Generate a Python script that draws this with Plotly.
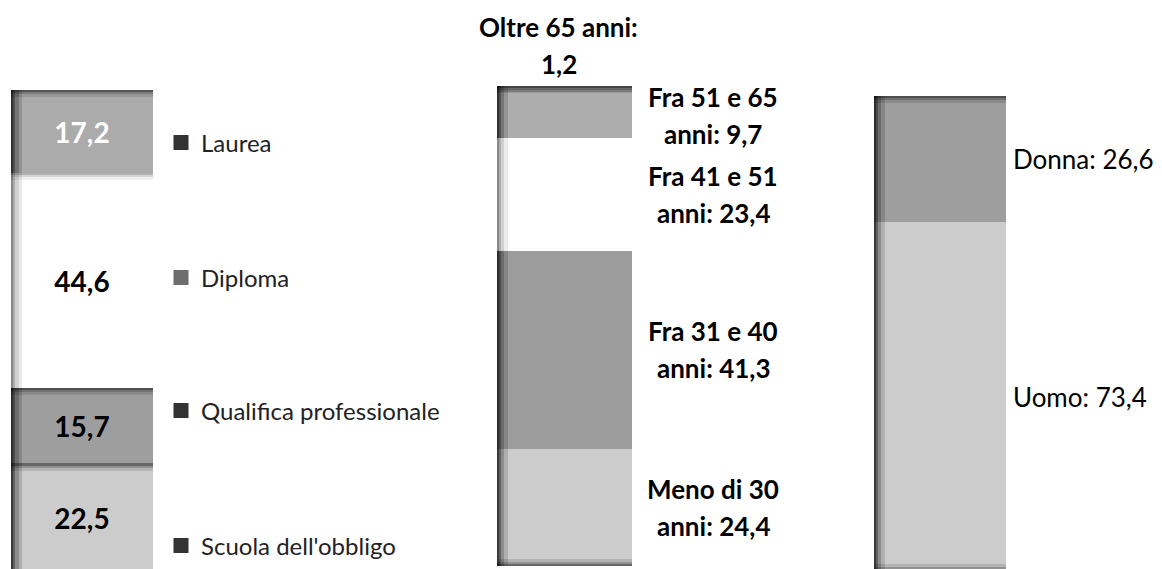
import plotly.graph_objects as go

# ---------------- data ----------------
edu_labels = ["Scuola dell'obbligo", "Qualifica professionale", "Diploma", "Laurea"]
edu_values = [22.5, 15.7, 44.6, 17.2]

age_labels = ["Meno di 30 anni", "Fra 31 e 40 anni", "Fra 41 e 51 anni", "Fra 51 e 65 anni", "Oltre 65 anni"]
age_values = [24.4, 41.3, 23.4, 9.7, 1.2]

sex_labels = ["Uomo", "Donna"]
sex_values = [73.4, 26.6]

# ---------------- style ----------------
EDU_COLORS = ["#cccccc", "#9e9e9e", "#ffffff", "#ababab"]
EDU_TEXT = ["#000000", "#000000", "#000000", "#ffffff"]
EDU_ICON = ["#333333", "#333333", "#6e6e6e", "#333333"]
AGE_COLORS = ["#cccccc", "#9c9c9c", "#ffffff", "#adadad", "#8c8c8c"]
SEX_COLORS = ["#cccccc", "#9e9e9e"]
FONT = "Lato"

# the page body has an 8px margin: work in page pixels and convert
OFF = 8
W, H = 1162 - OFF, 569 - OFF


def fx(p):
    return (p - OFF) / W


def fy(p):
    return 1 - (p - OFF) / H


def fmt(v):
    return f"{v:.1f}".replace(".", ",")


def cum_bases(vals):
    out, s = [], 0.0
    for v in vals:
        out.append(s)
        s += v
    return out


LEFT_LAYERS = [(0.08, 0.14), (0.055, 0.2), (0.03, 0.3), (0.014, 0.4)]
TOP_LAYERS = [(1.5, 0.12), (0.9, 0.18), (0.45, 0.3)]

fig = go.Figure()


def add_stack(vals, colors, xa, ya, names, text=None, textcolors=None):
    for i, (v, b) in enumerate(zip(vals, cum_bases(vals))):
        kw = {}
        if text is not None:
            kw = dict(text=[text[i]], texttemplate="%{text}", textposition="inside",
                      insidetextanchor="middle", textangle=0,
                      textfont=dict(family=FONT, size=28, color=textcolors[i], weight="bold"))
        fig.add_trace(go.Bar(x=[0], y=[v], base=[b], width=1, offset=-0.5, name=names[i],
                             marker=dict(color=colors[i], line=dict(width=0)),
                             xaxis=xa, yaxis=ya, showlegend=False, hoverinfo="skip",
                             constraintext="none", **kw))


def add_shadows(vals, colors, xa, ya, top_flags, bottom=False):
    for v, b, c, tf in zip(vals, cum_bases(vals), colors, top_flags):
        k = 0.55 if c.lower() == "#ffffff" else 1.0
        for w, a in LEFT_LAYERS:
            fig.add_trace(go.Bar(x=[0], y=[v], base=[b], width=w, offset=-0.5,
                                 marker=dict(color=f"rgba(0,0,0,{a * k:.3f})", line=dict(width=0)),
                                 xaxis=xa, yaxis=ya, showlegend=False, hoverinfo="skip"))
        if tf:
            top = b + v
            for t, a in TOP_LAYERS:
                fig.add_trace(go.Bar(x=[0], y=[t], base=[top - t], width=1, offset=-0.5,
                                     marker=dict(color=f"rgba(0,0,0,{a * k:.3f})", line=dict(width=0)),
                                     xaxis=xa, yaxis=ya, showlegend=False, hoverinfo="skip"))
    if bottom:
        for t, a in TOP_LAYERS:
            fig.add_trace(go.Bar(x=[0], y=[t], base=[0], width=1, offset=-0.5,
                                 marker=dict(color=f"rgba(0,0,0,{a:.3f})", line=dict(width=0)),
                                 xaxis=xa, yaxis=ya, showlegend=False, hoverinfo="skip"))


# bar 1: education
add_stack(edu_values, EDU_COLORS, "x", "y", edu_labels,
          text=[fmt(v) for v in edu_values], textcolors=EDU_TEXT)
add_shadows(edu_values, EDU_COLORS, "x", "y", [True, True, True, True])

# bar 2: age
add_stack(age_values, AGE_COLORS, "x2", "y2", age_labels)
add_shadows(age_values, AGE_COLORS, "x2", "y2", [False, False, False, False, True], bottom=True)

# bar 3: gender
add_stack(sex_values, SEX_COLORS, "x3", "y3", sex_labels)
add_shadows(sex_values, SEX_COLORS, "x3", "y3", [False, True], bottom=True)

# legend entries for the education bar (one legend each, to match spacing)
legend_names = ["legend4", "legend3", "legend2", "legend"]
legend_ypx = [546, 411, 278, 143]
for lab, icon, lg in zip(edu_labels, EDU_ICON, legend_names):
    fig.add_trace(go.Scatter(x=[None], y=[None], mode="markers", name=lab,
                             marker=dict(symbol="square", size=15, color=icon),
                             xaxis="x", yaxis="y", showlegend=True, legend=lg, hoverinfo="skip"))

legend_style = dict(xanchor="left", yanchor="middle", bgcolor="rgba(0,0,0,0)", borderwidth=0,
                    font=dict(family=FONT, size=24, color="#222222"), itemwidth=30)
legend_layout = {}
for lg, ypx in zip(legend_names, legend_ypx):
    legend_layout[lg] = dict(x=fx(161), y=fy(ypx), **legend_style)


def wrap(text, width):
    words, lines, cur = text.split(" "), [], ""
    for w in words:
        cand = w if not cur else cur + " " + w
        if len(cand) <= width or not cur:
            cur = cand
        else:
            lines.append(cur)
            cur = w
    if cur:
        lines.append(cur)
    return lines


annotations = []
LINE = 37
LABEL_FONT = dict(family=FONT, size=26, color="#000000", weight="bold")
# age labels
age_bases = cum_bases(age_values)
for i, (lab, v, b) in enumerate(zip(age_labels, age_values, age_bases)):
    full = f"{lab}: {fmt(v)}"
    if i == len(age_values) - 1:
        lines = wrap(full, 14)
        for j, ln in enumerate(lines):
            annotations.append(dict(x=0, y=b + v, xref="x2", yref="y2", text=ln, showarrow=False,
                                    xanchor="center", yanchor="middle", xshift=-6,
                                    yshift=22 + (len(lines) - 1 - j) * LINE, font=LABEL_FONT))
    else:
        lines = wrap(full, 11)
        n = len(lines)
        for j, ln in enumerate(lines):
            annotations.append(dict(x=0.5, y=b + v / 2, xref="x2", yref="y2", text=ln, showarrow=False,
                                    xanchor="center", yanchor="middle", xshift=81,
                                    yshift=((n - 1) / 2 - j) * LINE, font=LABEL_FONT))

# gender labels
for lab, v, b in zip(sex_labels, sex_values, cum_bases(sex_values)):
    annotations.append(dict(x=0.5, y=b + v / 2, xref="x3", yref="y3", text=f"{lab}: {fmt(v)}",
                            showarrow=False, xanchor="left", yanchor="middle", xshift=5,
                            font=dict(family=FONT, size=26, color="#000000")))

ax_common = dict(visible=False, fixedrange=True)
fig.update_layout(
    width=W, height=H,
    margin=dict(l=0, r=0, t=0, b=0),
    paper_bgcolor="white", plot_bgcolor="white",
    barmode="overlay", bargap=0,
    separators=",.",
    showlegend=True,
    xaxis=dict(domain=[fx(11), fx(153)], range=[-0.5, 0.5], anchor="y", **ax_common),
    yaxis=dict(domain=[0, fy(90)], range=[0.6, 100], anchor="x", **ax_common),
    xaxis2=dict(domain=[fx(497), fx(632)], range=[-0.5, 0.5], anchor="y2", **ax_common),
    yaxis2=dict(domain=[fy(566), fy(86)], range=[0, 100], anchor="x2", **ax_common),
    xaxis3=dict(domain=[fx(874), fx(1006)], range=[-0.5, 0.5], anchor="y3", **ax_common),
    yaxis3=dict(domain=[0, fy(96)], range=[0.4, 100], anchor="x3", **ax_common),
    annotations=annotations,
    **legend_layout,
)

fig.write_html("out.html")
